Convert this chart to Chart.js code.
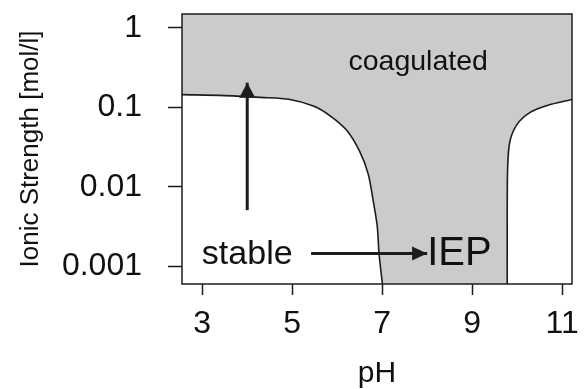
<!DOCTYPE html>
<html>
<head>
<meta charset="utf-8">
<script src="https://cdn.jsdelivr.net/npm/chart.js@4/dist/chart.umd.min.js"></script>
<style>
  html, body { margin: 0; padding: 0; background: #fff; }
  #wrap { width: 585px; height: 389px; position: relative; }
</style>
</head>
<body>
<div id="wrap"><canvas id="chart"></canvas></div>
<script>
// boundary between stable (below) and coagulated (above)
// the last left / first right points sit below the axis so the corners are clipped
const phLeft = [2.55, 3.5, 4.3, 4.95, 5.47, 5.85, 6.22, 6.5, 6.69, 6.8, 6.89, 6.93, 7.0, 7.03, 7.03];
const ionLeft = [0.145, 0.141, 0.134, 0.126, 0.104, 0.078, 0.051, 0.028, 0.0145, 0.0067, 0.0032, 0.00145, 0.00063, 0.0004, 0.0002];
const phRight = [9.78, 9.78, 9.78, 9.78, 9.79, 9.84, 10.0, 10.29, 10.67, 11.22];
const ionRight = [0.0002, 0.0004, 0.0011, 0.0042, 0.0178, 0.0376, 0.0613, 0.0866, 0.106, 0.126];

// arrows (pH, ionic strength)
const vArrowPh = [4.0, 4.0];
const vArrowIon = [0.0051, 0.205];
const hArrowPh = [5.42, 8.0];
const hArrowIon = [0.00145, 0.00145];

const xTicks = [3, 5, 7, 9, 11];
const yTicks = [1, 0.1, 0.01, 0.001];
const yTickLabels = ['1', '0.1', '0.01', '0.001'];

// text labels: [text, pH, ionic strength at baseline]
const notes = [
  ['coagulated', 7.8, 0.3],
  ['stable', 4.0, 0.00106],
  ['IEP', 8.0, 0.00103]
];

const FONT = '"Liberation Sans", Arial, Helvetica, sans-serif';
const INK = '#1c1c1c';

const boundary = phLeft.map((p, i) => ({ x: p, y: ionLeft[i] }))
  .concat(phRight.map((p, i) => ({ x: p, y: ionRight[i] })));

const toPts = (xs, ys) => xs.map((x, i) => ({ x, y: ys[i] }));

const extras = {
  id: 'extras',
  afterDatasetsDraw(chart) {
    const { ctx, chartArea: a, scales: { x, y } } = chart;
    ctx.save();
    // arrow heads
    ctx.fillStyle = INK;
    const vx = x.getPixelForValue(vArrowPh[1]);
    const vy = y.getPixelForValue(vArrowIon[1]);
    ctx.beginPath();
    ctx.moveTo(vx, vy);
    ctx.lineTo(vx - 8, vy + 15);
    ctx.lineTo(vx + 8, vy + 15);
    ctx.closePath();
    ctx.fill();
    const hx = x.getPixelForValue(hArrowPh[1]);
    const hy = y.getPixelForValue(hArrowIon[1]);
    ctx.beginPath();
    ctx.moveTo(hx, hy);
    ctx.lineTo(hx - 15, hy - 7);
    ctx.lineTo(hx - 15, hy + 7);
    ctx.closePath();
    ctx.fill();

    // text
    ctx.fillStyle = '#111';
    ctx.textBaseline = 'alphabetic';
    notes.forEach(([t, p, v]) => {
      const px = x.getPixelForValue(p);
      const py = y.getPixelForValue(v);
      if (t === 'IEP') {
        ctx.font = '40px ' + FONT;
        ctx.textAlign = 'left';
      } else if (t === 'stable') {
        ctx.font = '34px ' + FONT;
        ctx.textAlign = 'center';
      } else {
        ctx.font = '28.5px ' + FONT;
        ctx.textAlign = 'center';
      }
      ctx.fillText(t, px, py);
    });

    // frame
    ctx.strokeStyle = INK;
    ctx.lineWidth = 1.5;
    ctx.strokeRect(a.left, a.top, a.right - a.left, a.bottom - a.top);
    ctx.restore();
  }
};

new Chart(document.getElementById('chart'), {
  type: 'line',
  data: {
    datasets: [
      {
        data: toPts(vArrowPh, vArrowIon),
        borderColor: INK, borderWidth: 3, pointRadius: 0, fill: false
      },
      {
        data: toPts(hArrowPh, hArrowIon),
        borderColor: INK, borderWidth: 3, pointRadius: 0, fill: false
      },
      {
        data: boundary,
        borderColor: INK,
        borderWidth: 1.6,
        backgroundColor: '#cbcbcb',
        pointRadius: 0,
        tension: 0.3,
        fill: 'end'
      }
    ]
  },
  options: {
    responsive: true,
    maintainAspectRatio: false,
    animation: false,
    layout: { padding: { top: 14, right: 13, left: 0, bottom: 0 } },
    plugins: { legend: { display: false }, tooltip: { enabled: false } },
    scales: {
      x: {
        type: 'linear',
        min: 2.55,
        max: 11.22,
        afterBuildTicks: s => { s.ticks = xTicks.map(v => ({ value: v })); },
        afterFit: s => { s.height = 105; s.paddingLeft = 0; s.paddingRight = 0; },
        grid: { drawOnChartArea: false, drawTicks: true, tickLength: 11, tickColor: INK, tickWidth: 1.5 },
        border: { display: false },
        ticks: { color: '#111', font: { family: FONT, size: 32 }, padding: 10, maxRotation: 0, autoSkip: false },
        title: { display: true, text: 'pH', color: '#111', font: { family: FONT, size: 30, lineHeight: 1 }, padding: 0 }
      },
      y: {
        type: 'logarithmic',
        min: 0.00063,
        max: 1.5,
        afterBuildTicks: s => { s.ticks = yTicks.map(v => ({ value: v })); },
        afterFit: s => { s.width = 182; s.paddingTop = 0; s.paddingBottom = 0; },
        grid: { drawOnChartArea: false, drawTicks: true, tickLength: 14, tickColor: INK, tickWidth: 1.5 },
        border: { display: false },
        ticks: {
          color: '#111', font: { family: FONT, size: 32 }, padding: 26, autoSkip: false,
          callback: v => { const i = yTicks.indexOf(v); return i >= 0 ? yTickLabels[i] : ''; }
        },
        title: { display: true, text: 'Ionic Strength [mol/l]', color: '#111', font: { family: FONT, size: 26 }, padding: { top: 15, bottom: 0 } }
      }
    }
  },
  plugins: [extras]
});
</script>
</body>
</html>
